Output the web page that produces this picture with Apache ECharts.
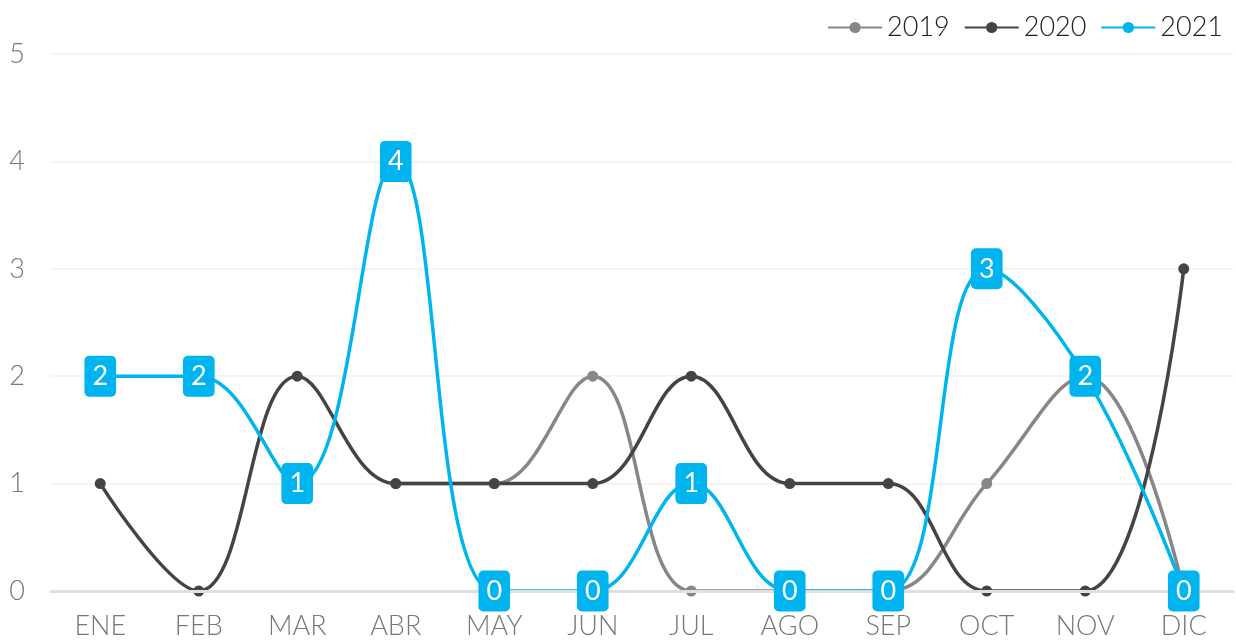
<!DOCTYPE html>
<html>
<head>
<meta charset="utf-8">
<script src="https://cdn.jsdelivr.net/npm/echarts@6/dist/echarts.min.js"></script>
<style>
    html, body { margin: 0; padding: 0; background: #fff; }
    #chart { width: 1236px; height: 641px; }
</style>
</head>
<body>
<div id="chart"></div>
<script>
var meses = ['ENE', 'FEB', 'MAR', 'ABR', 'MAY', 'JUN', 'JUL', 'AGO', 'SEP', 'OCT', 'NOV', 'DIC'];
var anios = ['2019', '2020', '2021'];
var datos2019 = [null, null, null, 1, 1, 2, 0, 0, 0, 1, 2, 0];
var datos2020 = [1, 0, 2, 1, 1, 1, 2, 1, 1, 0, 0, 3];
var datos2021 = [2, 2, 1, 4, 0, 0, 1, 0, 0, 3, 2, 0];
var colores = ['#878787', '#444444', '#00b5ef'];

var fuente = 'Lato';
var chart = echarts.init(document.getElementById('chart'));

var serieLinea = function(nombre, datos, color) {
    return {
        name: nombre,
        type: 'line',
        smooth: 0.4,
        data: datos,
        symbol: 'circle',
        symbolSize: 11,
        z: 2,
        lineStyle: { width: 3.5, color: color },
        itemStyle: { color: color }
    };
};

chart.setOption({
    animation: false,
    color: colores,
    legend: {
        data: anios,
        right: 8,
        top: 9,
        itemWidth: 54,
        itemHeight: 14,
        itemGap: 14,
        textStyle: { fontFamily: fuente, fontWeight: 300, fontSize: 27, color: '#222' }
    },
    grid: { left: 51, right: 3, top: 54, bottom: 50 },
    xAxis: {
        type: 'category',
        data: meses,
        z: 3,
        axisTick: { show: false },
        axisLine: { lineStyle: { color: '#e0e0e0', width: 3 } },
        axisLabel: { color: '#777', fontFamily: fuente, fontWeight: 300, fontSize: 27, margin: 22 }
    },
    yAxis: {
        type: 'value',
        min: 0,
        max: 5,
        interval: 1,
        axisLine: { show: false },
        axisTick: { show: false },
        axisLabel: { color: '#777', fontFamily: fuente, fontWeight: 300, fontSize: 27, margin: 26 },
        splitLine: { lineStyle: { color: '#f2f2f2', width: 1.5 } }
    },
    series: [
        serieLinea('2019', datos2019, colores[0]),
        serieLinea('2020', datos2020, colores[1]),
        serieLinea('2021', datos2021, colores[2]),
        {
            // solo las cajas de etiqueta de 2021, por encima del eje
            name: 'etiquetas2021',
            type: 'scatter',
            z: 5,
            symbolSize: 0,
            itemStyle: { color: '#00b5ef', opacity: 1 },
            data: meses.map(function(m, i) { return [m, datos2021[i]]; }),
            label: {
                show: true,
                position: 'inside',
                formatter: function(p) { return p.value[1]; },
                color: '#fff',
                opacity: 1,
                fontFamily: fuente,
                fontWeight: 'normal',
                fontSize: 27,
                backgroundColor: '#00b5ef',
                borderRadius: 5,
                padding: [8, 8, 6, 8]
            }
        }
    ]
});
</script>
</body>
</html>
